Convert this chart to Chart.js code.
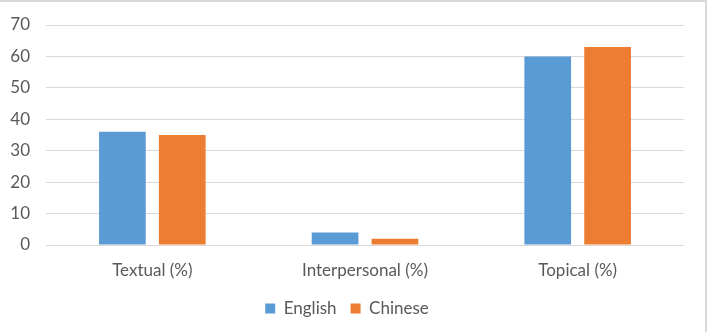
<!DOCTYPE html>
<html>
<head>
<meta charset="utf-8">
<script src="https://cdn.jsdelivr.net/npm/chart.js@4/dist/chart.umd.min.js"></script>
<style>
  html, body { margin: 0; padding: 0; background: #fff; }
  #wrap {
    width: 707px; height: 332px; position: relative; box-sizing: border-box;
    border-top: 2px solid #d9d9d9; border-right: 2px solid #d9d9d9;
  }
</style>
</head>
<body>
<div id="wrap"><canvas id="chart"></canvas></div>
<script>
// ── Données ──────────────────────────────────────────
const categories = ['Textual (%)', 'Interpersonal (%)', 'Topical (%)'];
const english = [36, 4, 60];
const chinese = [35, 2, 63];
const yTicks = [0, 10, 20, 30, 40, 50, 60, 70];

const COLORS = { english: '#5b9bd5', chinese: '#ed7d31', grid: '#d9d9d9', text: '#595959' };
const FONT = { family: 'Lato, "Open Sans", sans-serif', size: 17 };

new Chart(document.getElementById('chart'), {
    type: 'bar',
    data: {
        labels: categories,
        datasets: [
            { label: 'English', data: english, backgroundColor: COLORS.english },
            { label: 'Chinese', data: chinese, backgroundColor: COLORS.chinese },
        ],
    },
    options: {
        responsive: true,
        maintainAspectRatio: false,
        animation: false,
        categoryPercentage: 0.563,
        barPercentage: 0.78,
        layout: { padding: { left: 10, right: 21, top: 23, bottom: 5 } },
        scales: {
            x: {
                grid: { display: false },
                border: { display: false },
                ticks: { color: COLORS.text, font: FONT, padding: 7 },
                afterFit: axis => { axis.height = 41; },
            },
            y: {
                min: 0,
                max: 70,
                afterBuildTicks: axis => { axis.ticks = yTicks.map(v => ({ value: v })); },
                grid: { color: COLORS.grid, lineWidth: 1, drawTicks: false },
                border: { display: false },
                ticks: { color: COLORS.text, font: FONT, padding: 16 },
                afterFit: axis => {
                    axis.width = 36;
                    axis.paddingTop = 0;
                    axis.paddingBottom = 0;
                },
            },
        },
        plugins: {
            legend: {
                position: 'bottom',
                labels: { color: COLORS.text, font: FONT, boxWidth: 10, boxHeight: 10, padding: 14 },
            },
            tooltip: { enabled: false },
        },
    },
});
</script>
</body>
</html>
